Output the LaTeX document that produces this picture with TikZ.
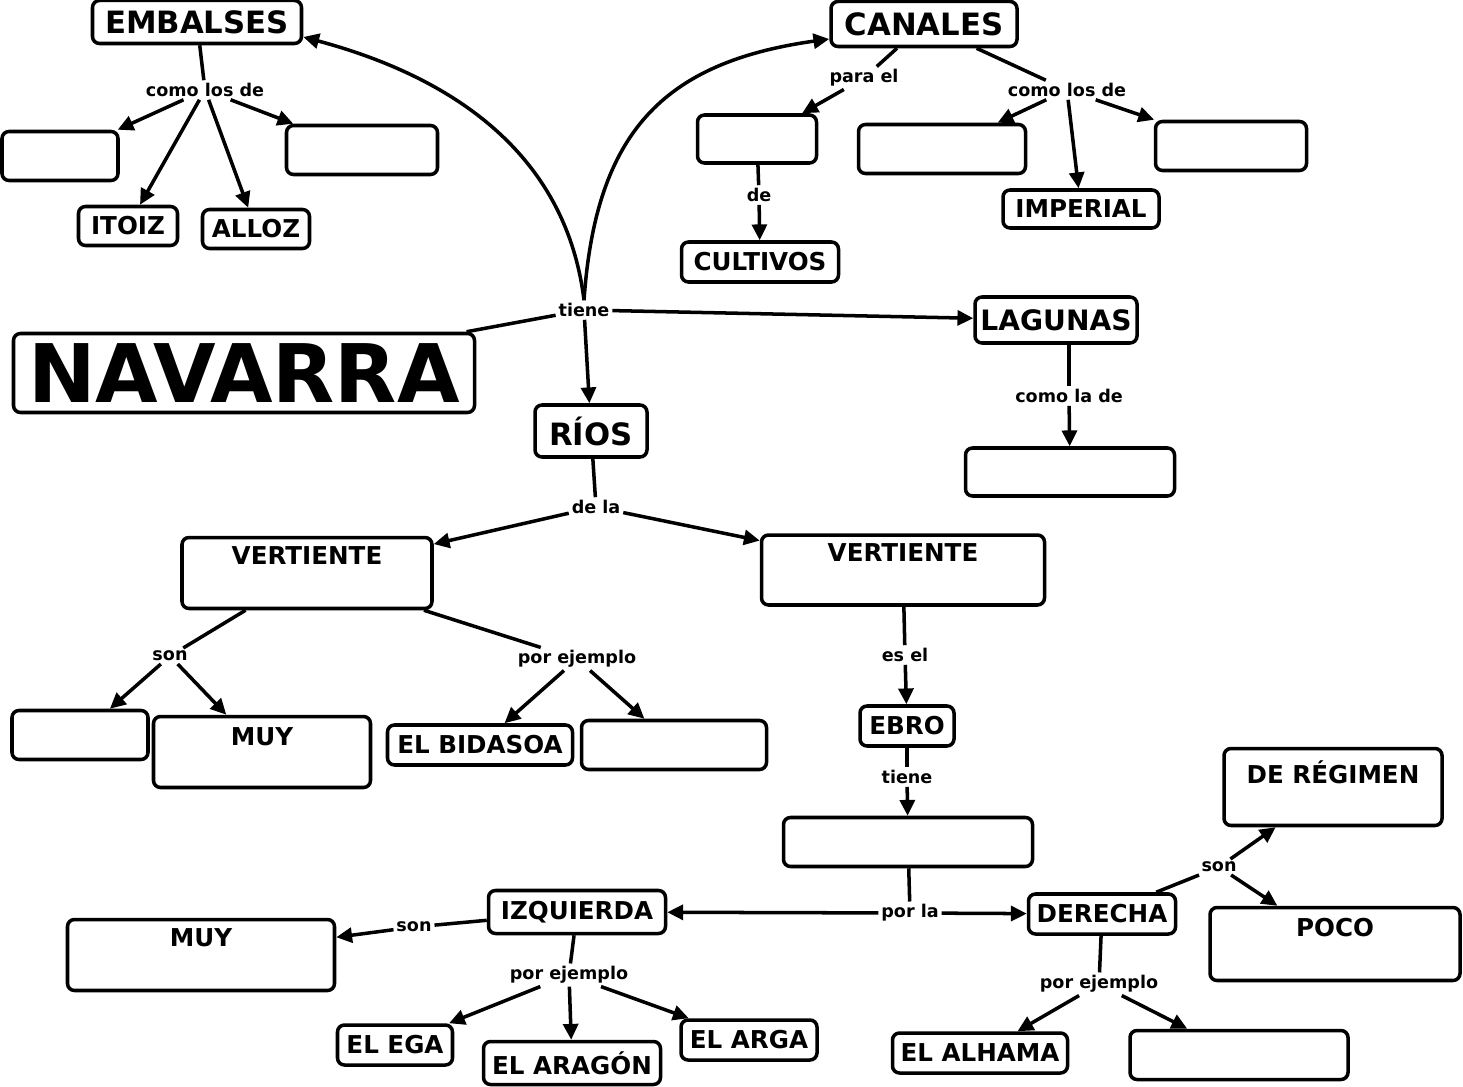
\documentclass[tikz,border=0pt]{standalone}
\usepackage{fontspec}
\setmainfont{DejaVu Sans}
\usetikzlibrary{arrows.meta}

\begin{document}
\begin{tikzpicture}[
                    x=0.02cm, y=-0.02cm,
                    box/.style={rectangle, draw, rounded corners=4pt, line width=2pt, inner sep=0pt, text centered, font=\bfseries\fontsize{14}{16}\selectfont},
                    big/.style={box, font=\bfseries\fontsize{17.5}{20}\selectfont},
                    sz/.style 2 args={minimum width=#1*0.02cm, minimum height=#2*0.02cm},
                    tall/.style n args={3}{box, minimum width=#1*0.02cm, text height=#2, text depth=#3},
                    link/.style={font=\bfseries\fontsize{10}{12}\selectfont, inner sep=1.5pt},
                    line/.style={line width=2pt},
                    arrow/.style={line, -{Triangle[length=9pt, width=8.5pt]}}
                ]
                    \useasboundingbox (0,0) rectangle (1463,1087);

                    % concepts
                    \node[box, sz={461}{79}, font=\bfseries\fontsize{46}{50}\selectfont] (navarra) at (244,373) {NAVARRA};
                    \node[big, sz={209}{43}] (embalses) at (197,22) {EMBALSES};
                    \node[big, sz={186}{45}] (canales) at (924,24) {CANALES};
                    \node[big, sz={162}{46}, font=\bfseries\fontsize{16}{19}\selectfont] (lagunas) at (1056,320) {LAGUNAS};
                    \node[big, sz={112}{52}] (rios) at (591,431) {RÍOS};

                    \node[box, sz={116}{49}] (emb1) at (60,156) {};
                    \node[box, sz={151}{49}] (emb2) at (362,150) {};
                    \node[box, sz={99}{39}] (itoiz) at (128,226) {ITOIZ};
                    \node[box, sz={107}{39}] (alloz) at (256,229) {ALLOZ};

                    \node[box, sz={119}{48}] (can1) at (757,139) {};
                    \node[box, sz={167}{49}] (can2) at (942,149) {};
                    \node[box, sz={151}{49}] (can3) at (1231,146) {};
                    \node[box, sz={156}{38}] (imperial) at (1081,209) {IMPERIAL};
                    \node[box, sz={157}{40}] (cultivos) at (760,262) {CULTIVOS};

                    \node[box, sz={209}{48}] (lag1) at (1070,472) {};

                    \node[tall={250}{0.54cm}{0.88cm}] (vatl) at (307,573) {VERTIENTE};
                    \node[tall={283}{0.52cm}{0.88cm}] (vmed) at (903,570) {VERTIENTE};
                    \node[box, sz={136}{49}] (vatl1) at (80,735) {};
                    \node[tall={217}{0.58cm}{0.84cm}] (muy1) at (262,752) {MUY};
                    \node[box, sz={185}{40}] (bidasoa) at (480,745) {EL BIDASOA};
                    \node[box, sz={185}{49}] (vatl2) at (674,745) {};

                    \node[box, sz={94}{40}] (ebro) at (907,726) {EBRO};
                    \node[box, sz={249}{49}] (afl) at (908,842) {};
                    \node[box, sz={177}{43}] (izq) at (577,912) {IZQUIERDA};
                    \node[box, sz={147}{40}] (der) at (1102,914) {DERECHA};
                    \node[tall={218}{0.70cm}{0.84cm}] (regimen) at (1333,787) {DE RÉGIMEN};
                    \node[tall={250}{0.58cm}{0.88cm}] (poco) at (1335,944) {POCO};
                    \node[tall={267}{0.54cm}{0.88cm}] (muy2) at (201,955) {MUY};
                    \node[box, sz={115}{40}] (ega) at (395,1045) {EL EGA};
                    \node[box, sz={177}{43}] (aragon) at (572,1063) {EL ARAGÓN};
                    \node[box, sz={136}{40}] (arga) at (749,1040) {EL ARGA};
                    \node[box, sz={175}{40}] (alhama) at (980,1053) {EL ALHAMA};
                    \node[box, sz={218}{49}] (der1) at (1239,1055) {};

                    % linking words
                    \node[link] (ltiene) at (584,310) {tiene};
                    \node[link] (lemb) at (205,90) {como los de};
                    \node[link] (lpara) at (864,78) {para el};
                    \node[link] (lde) at (759,195) {de};
                    \node[link] (lcan) at (1067,90) {como los de};
                    \node[link] (llag) at (1069,396) {como la de};
                    \node[link] (ldela) at (596,507) {de la};
                    \node[link] (lson1) at (170,656) {son};
                    \node[link] (lej1) at (577,659) {por ejemplo};
                    \node[link] (lesel) at (905,655) {es el};
                    \node[link] (ltiene2) at (907,777) {tiene};
                    \node[link] (lporla) at (910,913) {por la};
                    \node[link] (lson2) at (414,927) {son};
                    \node[link] (lej2) at (569,975) {por ejemplo};
                    \node[link] (lson3) at (1219,867) {son};
                    \node[link] (lej3) at (1099,984) {por ejemplo};

                    % navarra
                    \draw[line] (navarra) -- (ltiene);
                    \draw[arrow] (ltiene.north) to[out=97, in=-15] ([yshift=-0.3cm]embalses.east);
                    \draw[arrow] (ltiene.north) to[out=86, in=188, looseness=1.2] ([yshift=-0.3cm]canales.west);
                    \draw[arrow] (ltiene) -- (lagunas);
                    \draw[arrow] (ltiene) -- (rios);

                    % embalses
                    \draw[line] (embalses) -- (lemb);
                    \draw[arrow] (lemb) -- (emb1);
                    \draw[arrow] (lemb) -- (itoiz);
                    \draw[arrow] (lemb) -- (alloz);
                    \draw[arrow] (lemb) -- (emb2);

                    % canales
                    \draw[line] (canales) -- (lpara);
                    \draw[arrow] (lpara) -- (can1);
                    \draw[line] (can1) -- (lde);
                    \draw[arrow] (lde) -- (cultivos);
                    \draw[line] (canales) -- (lcan);
                    \draw[arrow] (lcan) -- (can2);
                    \draw[arrow] (lcan) -- (imperial);
                    \draw[arrow] (lcan) -- (can3);

                    % lagunas
                    \draw[line] (llag |- lagunas.south) -- (llag);
                    \draw[arrow] (llag) -- (lag1);

                    % rios
                    \draw[line] (rios) -- (ldela);
                    \draw[arrow] (ldela) -- (vatl);
                    \draw[arrow] (ldela) -- (vmed);
                    \draw[line] (vatl) -- (lson1);
                    \draw[arrow] (lson1) -- (vatl1);
                    \draw[arrow] (lson1) -- (muy1);
                    \draw[line] (vatl) -- (lej1);
                    \draw[arrow] (lej1) -- (bidasoa);
                    \draw[arrow] (lej1) -- (vatl2);

                    % ebro
                    \draw[line] (vmed) -- (lesel);
                    \draw[arrow] (lesel) -- (ebro);
                    \draw[line] (ebro) -- (ltiene2);
                    \draw[arrow] (ltiene2) -- (afl);
                    \draw[line] (afl) -- (lporla);
                    \draw[arrow] (lporla) -- (izq);
                    \draw[arrow] (lporla) -- (der);

                    \draw[line] (izq) -- (lson2);
                    \draw[arrow] (lson2) -- (muy2);
                    \draw[line] (izq) -- (lej2);
                    \draw[arrow] (lej2) -- (ega);
                    \draw[arrow] (lej2) -- (aragon);
                    \draw[arrow] (lej2) -- (arga);

                    \draw[line] (der) -- (lson3);
                    \draw[arrow] (lson3) -- (regimen);
                    \draw[arrow] (lson3) -- (poco);
                    \draw[line] (der) -- (lej3);
                    \draw[arrow] (lej3) -- (alhama);
                    \draw[arrow] (lej3) -- (der1);
                \end{tikzpicture}
\end{document}
